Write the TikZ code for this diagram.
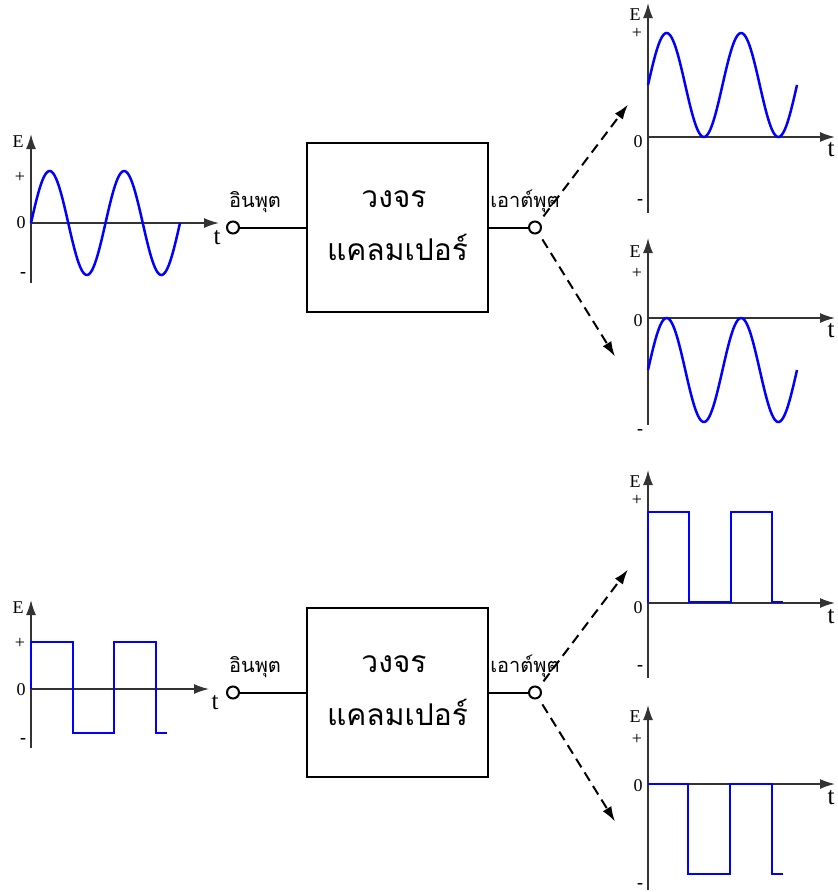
\documentclass[tikz,border=0pt]{standalone}
\usepackage{fontspec}
\setmainfont{Liberation Serif}
\newfontfamily\thaifont[Script=Thai]{Loma}
\usetikzlibrary{arrows.meta}
\tikzset{
  gaxis/.style ={line width=1.6pt, black!80, -{Latex[length=15pt,width=10pt]}},
  gwave/.style ={line width=2.5pt, blue, line join=miter},
  gbox/.style  ={rectangle, draw, line width=2pt, minimum width=181pt,
                 minimum height=169pt, inner sep=0pt},
  gterm/.style ={circle, draw, line width=2pt, fill=white,
                 minimum size=12pt, inner sep=0pt},
  gwire/.style ={line width=2pt},
  gdash/.style ={line width=2pt, dash pattern=on 10pt off 6pt, shorten <=7pt,
                 -{Latex[length=15pt,width=10pt]}},
  glabel/.style={font=\fontsize{18}{18}\selectfont, inner sep=0pt},
  gtime/.style ={font=\fontsize{25}{25}\selectfont, inner sep=0pt},
  gthai/.style ={font=\thaifont\fontsize{20}{20}\selectfont, inner sep=0pt, anchor=base},
  gthaibig/.style={font=\thaifont\fontsize{30}{30}\selectfont, inner sep=0pt, anchor=base},
}
\begin{document}
\begin{tikzpicture}[x=1pt, y=-1pt]
  \useasboundingbox (0,0) rectangle (838,892);
  % axes of the six graphs
  \foreach \g/\ox/\oy/\yt/\yb/\xe/\tx/\ty/\ey/\py/\zy/\my in {
      a/31/223/134/283/219/217/238/142/177/223/275,
      b/648/137/3/213/835/831/150/15/33/142/202,
      c/648/318/238/425/835/831/331/252/273/321/432,
      d/31/689/600/748/209/215/703/608/643/690/741,
      e/648/603/470/678/835/831/617/482/500/608/668,
      f/648/784/705/890/835/831/798/717/739/786/886} {
    \coordinate (o\g) at (\ox,\oy);
    \coordinate (v\g) at (\ox,\yt);
    \coordinate (h\g) at (\xe,\oy);
    \draw[gaxis] (\ox,\yb) -- (v\g);
    \draw[gaxis] (o\g) -- (h\g);
    \node[glabel] (E\g) at (\ox-13,\ey) {E};
    \node[glabel] (p\g) at (\ox-11,\py) {+};
    \node[glabel] (z\g) at (\ox-10,\zy) {0};
    \node[glabel] (m\g) at (\ox-8,\my) {\textbf{-}};
    \node[gtime]  (t\g) at (\tx,\ty) {t};
  }
  % sine waves
  \draw[gwave] plot[domain=0:149, samples=120] ({31+\x},{223-52*sin(\x/74.5*360)});
  \draw[gwave] plot[domain=0:149, samples=120] ({648+\x},{85-52*sin(\x/74.5*360)});
  \draw[gwave] plot[domain=0:149, samples=120] ({648+\x},{370-52*sin(\x/74.5*360)});
  % square waves
  \draw[gwave] (31,689) -- (31,642) -- (73,642) -- (73,733) -- (114,733)
    -- (114,642) -- (156,642) -- (156,733) -- (167,733);
  \draw[gwave] (648,603) -- (648,512) -- (689,512) -- (689,602) -- (731,602)
    -- (731,512) -- (772,512) -- (772,602) -- (783,602);
  \draw[gwave] (648,784) -- (688,784) -- (688,874) -- (730,874) -- (730,784)
    -- (772,784) -- (772,874) -- (783,874);
  % clamper blocks
  \foreach \r/\y in {1/227.5, 2/692.5} {
    \node[gbox]  (box\r) at (397.5,\y) {};
    \node[gterm] (in\r)  at (233,\y) {};
    \node[gterm] (out\r) at (535,\y) {};
    \draw[gwire] (in\r) -- (box\r);
    \draw[gwire] (box\r) -- (out\r);
    \node[gthaibig] (c\r) at (394,\y-20) {วงจร};
    \node[gthaibig] (k\r) at (397.5,\y+33) {แคลมเปอร์};
    \node[gthai] (il\r) at (255,\y-20) {อินพุต};
    \node[gthai] (ol\r) at (525,\y-20) {เอาต์พุต};
    \coordinate (up\r) at (628,\y-123);
    \coordinate (dn\r) at (615,\y+129);
    \draw[gdash] (out\r) -- (up\r);
    \draw[gdash] (out\r) -- (dn\r);
  }
\end{tikzpicture}
\end{document}
